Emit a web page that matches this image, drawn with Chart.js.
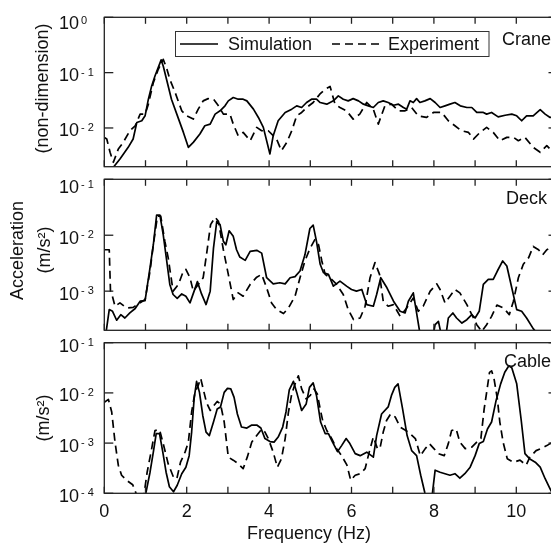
<!DOCTYPE html>
<html>
<head>
<meta charset="utf-8">
<script src="https://cdn.jsdelivr.net/npm/chart.js@4.4.1/dist/chart.umd.min.js"></script>
<style>
  html, body { margin: 0; padding: 0; background: #fff; }
  #wrap { position: relative; width: 551px; height: 544px; overflow: hidden; }
  #wrap canvas { position: absolute; left: 0; top: 0; }
</style>
</head>
<body>
<div id="wrap">
  <canvas id="crane" width="560" height="544"></canvas>
  <canvas id="deck" width="560" height="544"></canvas>
  <canvas id="cable" width="560" height="544"></canvas>
</div>
<script>
// ==============================
// DATA (frequency in Hz, amplitudes as log10 values)
// ==============================
const craneSimFreq = [0.17,0.22,0.38,0.58,0.70,0.79,0.91,0.99,1.07,1.15,1.23,1.38,1.43,1.51,1.63,1.76,1.92,2.04,2.16,2.32,2.44,2.57,2.69,2.81,2.93,3.01,3.13,3.25,3.37,3.46,3.62,3.74,3.86,4.02,4.10,4.22,4.39,4.55,4.67,4.79,4.91,5.03,5.15,5.24,5.40,5.56,5.68,5.80,5.92,6.04,6.17,6.29,6.41,6.53,6.65,6.77,6.89,7.02,7.14,7.26,7.34,7.42,7.50,7.58,7.66,7.78,7.91,8.03,8.15,8.27,8.39,8.51,8.64,8.80,8.92,9.04,9.20,9.28,9.40,9.56,9.73,9.89,10.01,10.13,10.25,10.41,10.58,10.70,10.82,11.0];
const craneSimLog  = [-2.85,-2.71,-2.56,-2.35,-2.20,-1.90,-1.87,-1.78,-1.48,-1.24,-1.06,-0.77,-0.88,-1.12,-1.48,-1.75,-2.08,-2.35,-2.26,-2.11,-1.96,-1.93,-1.75,-1.69,-1.60,-1.51,-1.45,-1.48,-1.48,-1.51,-1.66,-1.81,-1.99,-2.47,-2.14,-1.87,-1.72,-1.66,-1.60,-1.63,-1.54,-1.48,-1.48,-1.54,-1.57,-1.51,-1.42,-1.48,-1.51,-1.47,-1.51,-1.57,-1.60,-1.63,-1.54,-1.51,-1.54,-1.59,-1.57,-1.63,-1.66,-1.51,-1.54,-1.47,-1.54,-1.51,-1.47,-1.54,-1.63,-1.60,-1.57,-1.54,-1.60,-1.63,-1.63,-1.72,-1.72,-1.75,-1.72,-1.80,-1.77,-1.75,-1.78,-1.87,-1.78,-1.78,-1.67,-1.75,-1.81,-1.80];
const craneExpFreq = [0.0,0.06,0.14,0.22,0.34,0.46,0.62,0.75,0.87,0.99,1.07,1.19,1.31,1.43,1.51,1.59,1.72,1.88,2.00,2.16,2.28,2.40,2.52,2.65,2.77,2.89,3.05,3.13,3.25,3.37,3.54,3.70,3.82,3.98,4.10,4.18,4.30,4.43,4.55,4.67,4.79,4.91,5.07,5.23,5.36,5.48,5.60,5.72,5.88,6.04,6.20,6.37,6.53,6.65,6.81,6.97,7.14,7.30,7.46,7.62,7.82,7.99,8.19,8.35,8.51,8.67,8.84,8.96,9.12,9.28,9.44,9.60,9.77,9.93,10.05,10.21,10.41,10.58,10.74,10.82,11.0];
const craneExpLog  = [-2.17,-2.20,-2.44,-2.62,-2.38,-2.26,-2.05,-1.96,-1.75,-1.75,-1.57,-1.18,-0.94,-0.76,-0.91,-1.12,-1.36,-1.69,-1.78,-1.84,-1.66,-1.51,-1.47,-1.48,-1.60,-1.75,-1.75,-1.93,-2.14,-2.08,-2.23,-1.99,-2.05,-2.05,-2.14,-2.20,-2.41,-2.26,-2.05,-1.78,-1.72,-1.63,-1.54,-1.39,-1.30,-1.25,-1.57,-1.63,-1.69,-1.84,-1.75,-1.54,-1.66,-1.93,-1.60,-1.57,-1.69,-1.69,-1.63,-1.78,-1.81,-1.72,-1.72,-1.87,-1.96,-2.05,-2.08,-2.20,-2.08,-1.99,-2.08,-2.23,-2.17,-2.17,-2.23,-2.17,-2.35,-2.44,-2.32,-2.38,-2.30];

const deckSimFreq = [0.04,0.12,0.20,0.30,0.40,0.50,0.62,0.75,0.87,0.99,1.11,1.19,1.27,1.35,1.43,1.51,1.59,1.67,1.77,1.88,1.98,2.08,2.18,2.26,2.36,2.47,2.57,2.65,2.73,2.81,2.89,2.95,3.03,3.13,3.21,3.29,3.42,3.54,3.70,3.82,3.94,4.10,4.26,4.39,4.51,4.63,4.75,4.87,4.99,5.07,5.15,5.24,5.32,5.44,5.56,5.72,5.88,6.00,6.12,6.25,6.37,6.53,6.61,6.71,6.86,7.02,7.18,7.30,7.38,7.50,7.66,7.80,7.95,8.03,8.11,8.17,8.29,8.35,8.46,8.55,8.68,8.80,8.92,9.00,9.10,9.20,9.32,9.44,9.54,9.67,9.77,9.89,10.01,10.13,10.25,10.41,10.50,11.0];
const deckSimLog  = [-3.75,-3.33,-3.36,-3.52,-3.42,-3.48,-3.39,-3.31,-3.18,-3.17,-2.58,-2.17,-1.64,-1.64,-1.99,-2.43,-2.88,-3.06,-3.13,-3.05,-3.09,-3.21,-3.00,-2.83,-3.05,-3.24,-3.00,-2.23,-1.75,-1.81,-2.11,-2.17,-1.92,-2.02,-2.26,-2.39,-2.45,-2.29,-2.27,-2.32,-2.76,-2.87,-2.85,-2.87,-2.76,-2.74,-2.64,-2.35,-1.88,-1.82,-2.11,-2.52,-2.67,-2.70,-2.91,-2.82,-2.91,-2.97,-3.00,-2.97,-3.24,-3.27,-3.06,-2.76,-2.94,-3.18,-3.36,-3.39,-3.18,-3.03,-3.75,-4.00,-3.90,-3.60,-3.54,-3.75,-3.80,-3.48,-3.39,-3.48,-3.57,-3.51,-3.42,-3.48,-3.36,-2.88,-2.79,-2.79,-2.64,-2.46,-2.55,-2.94,-3.33,-3.36,-3.48,-3.67,-3.75,-4.20];
const deckExpFreq = [0.0,0.12,0.15,0.20,0.26,0.38,0.54,0.70,0.87,0.99,1.11,1.19,1.29,1.37,1.47,1.55,1.67,1.80,1.92,1.98,2.08,2.16,2.28,2.40,2.48,2.58,2.69,2.77,2.89,3.01,3.13,3.25,3.37,3.54,3.70,3.82,3.94,4.06,4.18,4.35,4.47,4.63,4.75,4.87,4.99,5.11,5.20,5.28,5.36,5.48,5.64,5.80,5.92,6.05,6.21,6.33,6.45,6.57,6.68,6.77,6.89,7.02,7.18,7.34,7.50,7.62,7.74,7.91,8.07,8.15,8.27,8.39,8.51,8.63,8.80,8.92,9.04,9.16,9.28,9.40,9.53,9.69,9.83,9.93,10.05,10.17,10.30,10.41,10.54,10.64,10.74,10.82,11.0];
const deckExpLog  = [-2.26,-2.26,-3.00,-3.10,-3.27,-3.21,-3.30,-3.29,-3.21,-3.15,-2.64,-2.17,-1.66,-1.66,-2.11,-2.40,-3.00,-2.88,-2.64,-2.61,-2.76,-3.00,-2.88,-2.76,-2.35,-1.81,-1.68,-1.75,-2.26,-2.70,-3.15,-3.03,-3.09,-2.88,-2.75,-2.70,-2.94,-3.21,-3.33,-3.40,-3.30,-3.09,-2.76,-2.46,-2.24,-2.08,-2.17,-2.46,-2.70,-2.76,-2.88,-3.06,-3.33,-3.51,-3.48,-3.27,-2.76,-2.49,-2.70,-3.18,-3.27,-3.24,-3.45,-3.30,-3.12,-3.36,-3.27,-3.00,-2.87,-2.97,-3.21,-3.09,-2.97,-3.03,-3.24,-3.42,-3.60,-3.72,-3.60,-3.45,-3.25,-3.30,-3.42,-3.18,-2.76,-2.52,-2.40,-2.20,-2.26,-2.35,-2.26,-2.23,-2.25];

const cableSimFreq = [0.90,1.01,1.11,1.19,1.26,1.34,1.42,1.50,1.58,1.68,1.77,1.88,1.98,2.06,2.12,2.18,2.24,2.31,2.39,2.47,2.55,2.65,2.74,2.82,2.91,2.99,3.07,3.15,3.23,3.33,3.46,3.58,3.70,3.80,3.90,4.02,4.12,4.22,4.33,4.41,4.49,4.59,4.67,4.79,4.90,4.98,5.07,5.15,5.25,5.36,5.44,5.54,5.66,5.76,5.87,5.96,6.09,6.21,6.37,6.53,6.61,6.73,6.89,6.97,7.05,7.13,7.24,7.35,7.46,7.58,7.68,7.78,7.85,7.95,8.03,8.15,8.27,8.39,8.51,8.63,8.75,8.88,9.00,9.10,9.20,9.30,9.40,9.51,9.62,9.72,9.82,9.89,10.01,10.12,10.21,10.32,10.46,10.58,10.70,10.82,11.0];
const cableSimLog  = [-4.30,-3.99,-3.58,-3.18,-2.81,-2.81,-3.18,-3.58,-3.87,-3.97,-3.84,-3.61,-3.48,-3.25,-2.78,-2.12,-1.77,-1.99,-2.45,-2.78,-2.85,-2.58,-2.32,-2.28,-1.99,-1.91,-1.92,-2.09,-2.42,-2.68,-2.70,-2.64,-2.64,-2.70,-2.91,-2.97,-2.98,-2.88,-2.68,-2.38,-1.94,-1.77,-1.99,-2.35,-2.22,-1.89,-1.80,-2.05,-2.58,-2.81,-2.81,-2.98,-3.17,-3.05,-2.91,-3.01,-3.21,-3.25,-3.18,-3.28,-2.85,-2.42,-2.28,-2.05,-1.89,-1.82,-2.32,-2.85,-3.15,-3.25,-3.64,-3.99,-4.20,-4.10,-3.54,-3.58,-3.61,-3.64,-3.61,-3.70,-3.61,-3.48,-3.25,-3.01,-2.97,-2.72,-2.58,-2.15,-1.82,-1.59,-1.46,-1.50,-1.82,-2.55,-3.21,-3.31,-3.38,-3.48,-3.71,-3.91,-4.20];
const cableExpFreq = [0.0,0.10,0.18,0.26,0.34,0.42,0.54,0.69,0.77,0.85,0.95,1.04,1.15,1.23,1.34,1.43,1.55,1.68,1.76,1.85,1.96,2.04,2.12,2.20,2.28,2.34,2.40,2.48,2.57,2.66,2.74,2.82,2.91,3.01,3.13,3.25,3.37,3.47,3.58,3.70,3.82,3.90,3.98,4.10,4.20,4.30,4.39,4.47,4.55,4.63,4.71,4.79,4.90,5.00,5.09,5.17,5.24,5.30,5.40,5.52,5.64,5.76,5.89,5.98,6.09,6.21,6.33,6.43,6.53,6.63,6.69,6.77,6.85,6.95,7.06,7.18,7.32,7.42,7.55,7.67,7.79,7.89,8.00,8.11,8.25,8.35,8.43,8.54,8.63,8.76,8.92,9.04,9.14,9.22,9.28,9.35,9.40,9.46,9.54,9.60,9.68,9.78,9.93,10.09,10.24,10.33,10.48,10.62,10.74,10.82,11.0];
const cableExpLog  = [-2.19,-2.13,-2.38,-2.98,-3.44,-3.64,-3.74,-3.83,-4.00,-4.30,-4.10,-3.58,-3.11,-2.75,-2.73,-3.01,-3.41,-3.68,-3.71,-3.38,-3.18,-2.98,-2.38,-1.99,-1.85,-1.71,-1.92,-2.19,-2.35,-2.25,-2.17,-2.22,-2.58,-3.28,-3.34,-3.41,-3.51,-3.28,-2.98,-2.85,-2.72,-2.78,-2.91,-3.18,-3.48,-3.31,-2.91,-2.38,-2.02,-1.82,-1.66,-1.92,-2.12,-2.05,-1.92,-2.02,-2.32,-2.55,-2.75,-2.91,-3.11,-3.25,-3.44,-3.74,-3.64,-3.61,-3.51,-3.18,-2.88,-3.11,-3.11,-2.78,-2.55,-2.42,-2.48,-2.68,-2.75,-2.81,-2.91,-3.25,-3.11,-3.01,-3.11,-3.21,-3.25,-3.01,-2.75,-2.72,-2.98,-3.11,-3.08,-2.98,-2.91,-2.32,-1.99,-1.59,-1.56,-1.72,-2.12,-2.58,-2.98,-3.31,-3.38,-3.34,-3.44,-3.28,-3.15,-3.10,-3.05,-3.01,-2.95];

// tick exponents (labels 10^n) per panel
const craneTickExp = [0, -1, -2];
const deckTickExp  = [-1, -2, -3];
const cableTickExp = [-1, -2, -3, -4];
const xTickLabels  = [0, 2, 4, 6, 8, 10];
const seriesNames  = ["Simulation", "Experiment"];

// ==============================
// LAYOUT
// ==============================
const FONT = '"Liberation Sans", Arial, Helvetica, sans-serif';
const CANVAS_W = 560, CANVAS_H = 544;
const PLOT_LEFT = 104.3, PLOT_RIGHT = 557.5;
const X_MAX = 11;
const INK = "#111";

function toPoints(freq, logv) {
  return freq.map((f, i) => ({ x: f, y: Math.pow(10, logv[i]) }));
}

function hline(ctx, x1, y1, x2, y2) {
  ctx.beginPath();
  ctx.moveTo(x1, y1);
  ctx.lineTo(x2, y2);
  ctx.stroke();
}

function drawPowLabel(ctx, x, y, exp) {
  ctx.textAlign = "left";
  ctx.textBaseline = "alphabetic";
  ctx.font = "18px " + FONT;
  ctx.fillText("10", x, y + 7.5);
  ctx.font = "11px " + FONT;
  const txt = exp === 0 ? "0" : "- " + Math.abs(exp);
  ctx.fillText(txt, x + 22, y + 2);
}

function drawRotated(ctx, text, x, y) {
  ctx.save();
  ctx.translate(x, y);
  ctx.rotate(-Math.PI / 2);
  ctx.textAlign = "center";
  ctx.textBaseline = "middle";
  ctx.font = "18px " + FONT;
  ctx.fillText(text, 0, 0);
  ctx.restore();
}

function makePanelPlugin(cfg) {
  return {
    id: "panelFrame",
    afterDraw(chart) {
      const ctx = chart.ctx;
      const a = chart.chartArea;
      const xs = chart.scales.x;
      const ys = chart.scales.y;
      ctx.save();
      ctx.strokeStyle = "#222";
      ctx.fillStyle = INK;
      ctx.lineWidth = 1.3;
      ctx.strokeRect(a.left, a.top, a.right - a.left, a.bottom - a.top);

      // inward x ticks, top and bottom
      for (let v = 0; v <= X_MAX; v++) {
        const px = xs.getPixelForValue(v);
        hline(ctx, px, a.top, px, a.top + 6.5);
        hline(ctx, px, a.bottom, px, a.bottom - 6.5);
      }

      // y ticks + labels
      cfg.tickExp.forEach((e, i) => {
        const py = ys.getPixelForValue(Math.pow(10, e));
        hline(ctx, a.left, py, a.left + 9, py);
        hline(ctx, a.right, py, a.right - 9, py);
        const shift = i === 0 ? cfg.topShift : 1;
        drawPowLabel(ctx, 59, py + shift, e);
      });

      // y titles
      cfg.titles.forEach(t => drawRotated(ctx, t.text, t.x, t.y));

      // panel name
      ctx.font = "18px " + FONT;
      ctx.textAlign = "left";
      ctx.textBaseline = "alphabetic";
      ctx.fillText(cfg.name, cfg.nameX, cfg.nameY);

      // bottom axis labels
      if (cfg.bottom) {
        ctx.textAlign = "center";
        xTickLabels.forEach(v => {
          ctx.fillText(String(v), xs.getPixelForValue(v), 516.5);
        });
        ctx.fillText("Frequency (Hz)", 309, 539);
      }

      // legend box
      if (cfg.legend) {
        ctx.fillStyle = "#fff";
        ctx.fillRect(175, 31.5, 314, 25);
        ctx.lineWidth = 1;
        ctx.strokeStyle = "#333";
        ctx.strokeRect(175.5, 31.5, 313.5, 25);
        ctx.strokeStyle = "#000";
        ctx.lineWidth = 1.7;
        hline(ctx, 180, 44, 218, 44);
        ctx.setLineDash([8, 5]);
        hline(ctx, 332, 44, 381, 44);
        ctx.setLineDash([]);
        ctx.fillStyle = INK;
        ctx.textAlign = "left";
        ctx.fillText(seriesNames[0], 228, 50);
        ctx.fillText(seriesNames[1], 388, 50);
      }
      ctx.restore();
    }
  };
}

function makePanel(id, top, bottom, logMin, logMax, sim, exp, cfg) {
  return new Chart(document.getElementById(id), {
    type: "line",
    data: {
      datasets: [
        {
          label: seriesNames[0],
          data: sim,
          borderColor: "#000",
          borderWidth: 1.7,
          pointRadius: 0,
          tension: 0,
          fill: false,
          borderJoinStyle: "round"
        },
        {
          label: seriesNames[1],
          data: exp,
          borderColor: "#000",
          borderWidth: 1.7,
          borderDash: [8, 5],
          pointRadius: 0,
          tension: 0,
          fill: false,
          borderJoinStyle: "round"
        }
      ]
    },
    options: {
      responsive: false,
      animation: false,
      devicePixelRatio: 1,
      events: [],
      layout: {
        padding: { left: PLOT_LEFT, right: CANVAS_W - PLOT_RIGHT, top: top, bottom: CANVAS_H - bottom }
      },
      scales: {
        x: { type: "linear", min: 0, max: X_MAX, display: false },
        y: { type: "logarithmic", min: Math.pow(10, logMin), max: Math.pow(10, logMax), display: false }
      },
      plugins: { legend: { display: false }, tooltip: { enabled: false } }
    },
    plugins: [makePanelPlugin(cfg)]
  });
}

makePanel("crane", 17.3, 166.7, -2.7, 0,
  toPoints(craneSimFreq, craneSimLog), toPoints(craneExpFreq, craneExpLog),
  { tickExp: craneTickExp, topShift: 4.4, name: "Crane", nameX: 502, nameY: 45,
    titles: [{ text: "(non-dimension)", x: 43.5, y: 88.5 }], legend: true, bottom: false });

makePanel("deck", 179.3, 330.3, -3.7, -1,
  toPoints(deckSimFreq, deckSimLog), toPoints(deckExpFreq, deckExpLog),
  { tickExp: deckTickExp, topShift: 6.5, name: "Deck", nameX: 506, nameY: 204,
    titles: [{ text: "Acceleration", x: 18.5, y: 250.5 }, { text: "(m/s\u00B2)", x: 45, y: 250 }],
    legend: false, bottom: false });

makePanel("cable", 342.7, 493.3, -4, -1,
  toPoints(cableSimFreq, cableSimLog), toPoints(cableExpFreq, cableExpLog),
  { tickExp: cableTickExp, topShift: 1.3, name: "Cable", nameX: 504, nameY: 367,
    titles: [{ text: "(m/s\u00B2)", x: 44.5, y: 418 }], legend: false, bottom: true });
</script>
</body>
</html>
